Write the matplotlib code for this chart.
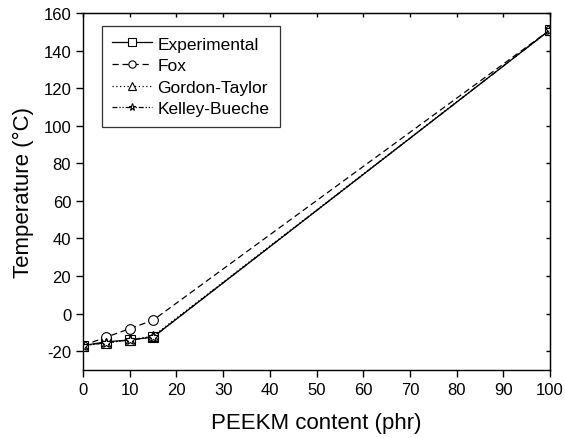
import matplotlib
matplotlib.use("Agg")
import matplotlib.pyplot as plt

plt.rcParams['font.family'] = ['Liberation Sans', 'DejaVu Sans']
plt.rcParams['axes.unicode_minus'] = False

x = [0, 5, 10, 15, 100]
experimental = [-17, -15, -14, -12.5, 151]
fox = [-17, -12.5, -8, -3.5, 151]
gordon_taylor = [-17, -15.5, -14, -12, 151]
kelley_bueche = [-17, -15.5, -14, -12.5, 151]

fig = plt.figure(figsize=(5.65, 4.39), dpi=100)
ax = fig.add_axes([83/565, 68/439, 467/565, 357/439])

mk = dict(color='black', lw=0.9, markerfacecolor='white', markeredgecolor='black', markersize=7, markeredgewidth=0.8)
ax.plot(x, experimental, linestyle='-', marker='s', label='Experimental', **mk)
ax.plot(x, fox, linestyle=(0, (5, 3)), marker='o', label='Fox', **mk)
ax.plot(x, gordon_taylor, linestyle=(0, (1, 2)), marker='^', label='Gordon-Taylor', **mk)
ax.plot(x, kelley_bueche, linestyle=(0, (4, 1.5, 1, 1.5, 1, 1.5)), marker='*', label='Kelley-Bueche', **mk)

ax.set_xlim(0, 100)
ax.set_ylim(-30, 160)
ax.set_xticks(range(0, 101, 10))
ax.set_yticks(range(-20, 161, 20))
ax.tick_params(axis='both', which='major', direction='out', length=5, width=1, labelsize=12, colors='black')
for s in ax.spines.values():
    s.set_linewidth(1)

# inward ticks on top and right
secx = ax.secondary_xaxis('top')
secx.set_xticks(range(0, 101, 10))
secx.tick_params(direction='in', length=3, width=1, labeltop=False)
secy = ax.secondary_yaxis('right')
secy.set_yticks(range(-20, 161, 20))
secy.tick_params(direction='in', length=3, width=1, labelright=False)

ax.set_xlabel('PEEKM content (phr)', fontsize=16, labelpad=11)
ax.set_ylabel('Temperature (°C)', fontsize=16, labelpad=7)

leg = ax.legend(loc='upper left', bbox_to_anchor=((102 - 83) / 467, (371 - 27) / 357), borderaxespad=0,
                fontsize=12.5, frameon=True, fancybox=False, edgecolor='black', handlelength=2.3,
                borderpad=0.6, labelspacing=0.37, handletextpad=0.3, markerscale=0.75)
leg.get_frame().set_linewidth(0.9)

fig.savefig('out.png', dpi=100)
